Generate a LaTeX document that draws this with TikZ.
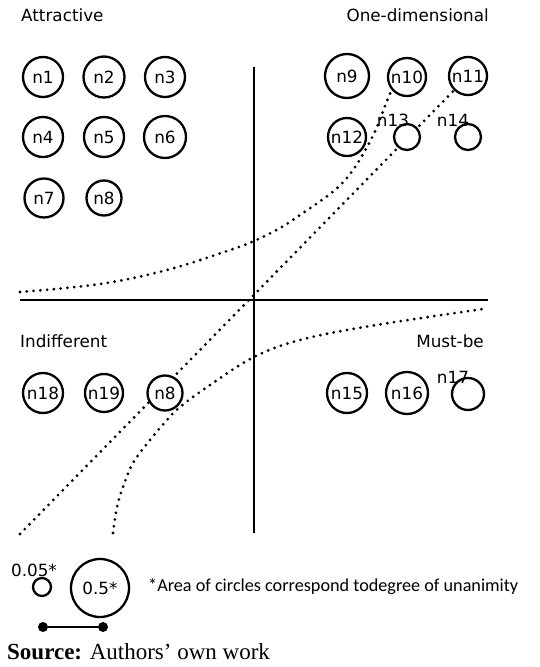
\documentclass[tikz,border=0pt]{standalone}
\usepackage{fontspec}
\setmainfont{DejaVu Sans}
\newfontfamily\carl{Carlito}
\newfontfamily\tms{Liberation Serif}
\usetikzlibrary{backgrounds}
\begin{document}
\begin{tikzpicture}[x=1pt,y=-1pt,
  font=\fontsize{16.8}{20}\selectfont,
  nc/.style={circle,draw,fill=white,line width=2.3pt,inner sep=0pt,minimum size=#1},
  lbl/.style={inner sep=0pt},
  axis/.style={line width=2.5pt},
  dotline/.style={line width=3.1pt,dash pattern=on 0pt off 6.8pt,line cap=round},
  dotend/.style={circle,fill=black,inner sep=0pt,minimum size=10pt}]
\useasboundingbox (0,0) rectangle (540,667);

% quadrant titles
\node[lbl,anchor=west] (tA) at (21,15) {Attractive};
\node[lbl,anchor=east] (tO) at (489,15) {One-dimensional};
\node[lbl,anchor=west] (tI) at (20,341) {Indifferent};
\node[lbl,anchor=east] (tM) at (484,341) {Must-be};

% axes
\coordinate (vt) at (254,67);
\coordinate (vb) at (254,533);
\coordinate (hl) at (20,300);
\coordinate (hr) at (488,300);
\draw[axis] (vt) -- (vb);
\draw[axis] (hl) -- (hr);

% attractive
\node[nc=40pt] (n1) at (43,77) {n1};
\node[nc=41pt] (n2) at (104,77) {n2};
\node[nc=40pt] (n3) at (165,77) {n3};
\node[nc=40pt] (n4) at (43,137) {n4};
\node[nc=40pt] (n5) at (104,137) {n5};
\node[nc=42pt] (n6) at (165,137) {n6};
\node[nc=39pt] (n7) at (44,198) {n7};
\node[nc=35pt] (n8) at (104,198) {n8};

% one-dimensional
\node[nc=44pt] (n9) at (347,76) {n9};
\node[nc=38pt] (n10) at (407,77) {n10};
\node[nc=38pt] (n11) at (468,76) {n11};
\node[nc=38pt] (n12) at (347,137) {n12};
\node[nc=26pt] (c13) at (407,137) {};
\node[nc=26pt] (c14) at (468,137) {};
\node[lbl] (l13) at (393,120) {n13};
\node[lbl] (l14) at (453,120) {n14};

% indifferent
\node[nc=40pt] (n18) at (43,393) {n18};
\node[nc=38pt] (n19) at (104,393) {n19};
\node[nc=35pt] (n8b) at (165,393) {n8};

% must-be
\node[nc=40pt] (n15) at (347,393) {n15};
\node[nc=42pt] (n16) at (407,393) {n16};
\node[nc=32pt] (c17) at (468,394) {};
\node[lbl] (l17) at (453,377) {n17};

% curves behind circles
\coordinate (aS) at (20,292);
\coordinate (bS) at (20,534);
\coordinate (cS) at (113,533);
\coordinate (cE) at (483,309);
\begin{pgfonlayer}{background}
\draw[dotline] plot[smooth,tension=0.6] coordinates {(aS) (100,284) (167,270) (230,250) (254,241) (280,228) (303,213) (335,190) (353,170) (367,147) (377,127) (392,90) (n10.center)};
\draw[dotline] (bS) -- (n11.center);
\draw[dotline] plot[smooth,tension=0.6] coordinates {(cS) (117,507) (123,487) (133,463) (150,440) (167,420) (180,407) (210,385) (254,357) (300,340) (370,326) (cE)};
\end{pgfonlayer}

% legend
\node[nc=18pt] (s1) at (42,587) {};
\node[lbl] (s1l) at (34,570) {0.05*};
\node[nc=58pt] (s2) at (100,588) {0.5*};
\node[lbl,anchor=west,font=\carl\fontsize{18.2}{21}\selectfont] (note) at (148,587) {*Area of circles correspond todegree of unanimity};
\node[dotend] (b1) at (43,627) {};
\node[dotend] (b2) at (103,627) {};
\draw[line width=2.8pt] (b1) -- (b2);

\node[lbl,anchor=west,font=\tms\fontsize{23}{27}\selectfont] (src) at (7,652) {\textbf{Source:} Authors’ own work};
\end{tikzpicture}
\end{document}
